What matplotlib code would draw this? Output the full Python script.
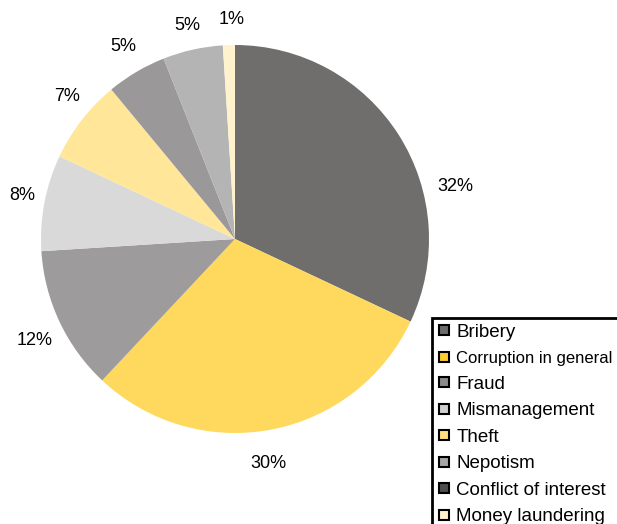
import matplotlib
matplotlib.use("Agg")
import matplotlib.pyplot as plt
from matplotlib.lines import Line2D

plt.rcParams['font.family'] = ['Liberation Sans', 'DejaVu Sans']

categories = ["Bribery", "Corruption in general", "Fraud", "Mismanagement",
              "Theft", "Nepotism", "Conflict of interest", "Money laundering"]
shares = [32, 30, 12, 8, 7, 5, 5, 1]
slice_colors = ["#706e6c", "#ffd95e", "#9e9b9c", "#d9d9d9",
                "#ffe699", "#9a9898", "#b4b4b4", "#fff2cc"]
legend_colors = ["#6b6b6b", "#ffcc33", "#8c8c8c", "#d0d0d0",
                 "#ffe080", "#a6a6a6", "#4d4d4d", "#fff2cc"]
# where the percent labels sit, in units of the pie radius
label_pos = [(1.134, 0.273), (0.170, -1.155), (-1.031, -0.521), (-1.098, 0.222),
             (-0.866, 0.732), (-0.577, 0.990), (-0.247, 1.098), (-0.015, 1.129)]

fig = plt.figure(figsize=(6.17, 5.24), dpi=100)
ax = fig.add_axes([41 / 617, 91 / 524, 388 / 617, 388 / 524])

wedges, _ = ax.pie(shares, colors=slice_colors, startangle=90,
                   counterclock=False, radius=1)
for v, (x, y) in zip(shares, label_pos):
    ax.text(x, y, f"{v}%", ha="center", va="center", fontsize=13)
ax.set_xlim(-1, 1)
ax.set_ylim(-1, 1)
ax.set_aspect("equal")

handles = [Line2D([0], [0], marker="s", linestyle="", markersize=7,
                  markerfacecolor=c, markeredgecolor="black", markeredgewidth=1.5)
           for c in legend_colors]
leg = fig.legend(handles, categories, loc="upper left",
                 bbox_to_anchor=(432 / 617, 1 - 318 / 524),
                 fontsize=13.5, frameon=True, fancybox=False, framealpha=1,
                 edgecolor="black", handlelength=0.7, handletextpad=0.3,
                 labelspacing=0.5, borderpad=0.3, borderaxespad=0)
leg.get_frame().set_linewidth(2)
leg.get_texts()[1].set_fontsize(12)

fig.savefig("out.png", dpi=100)
